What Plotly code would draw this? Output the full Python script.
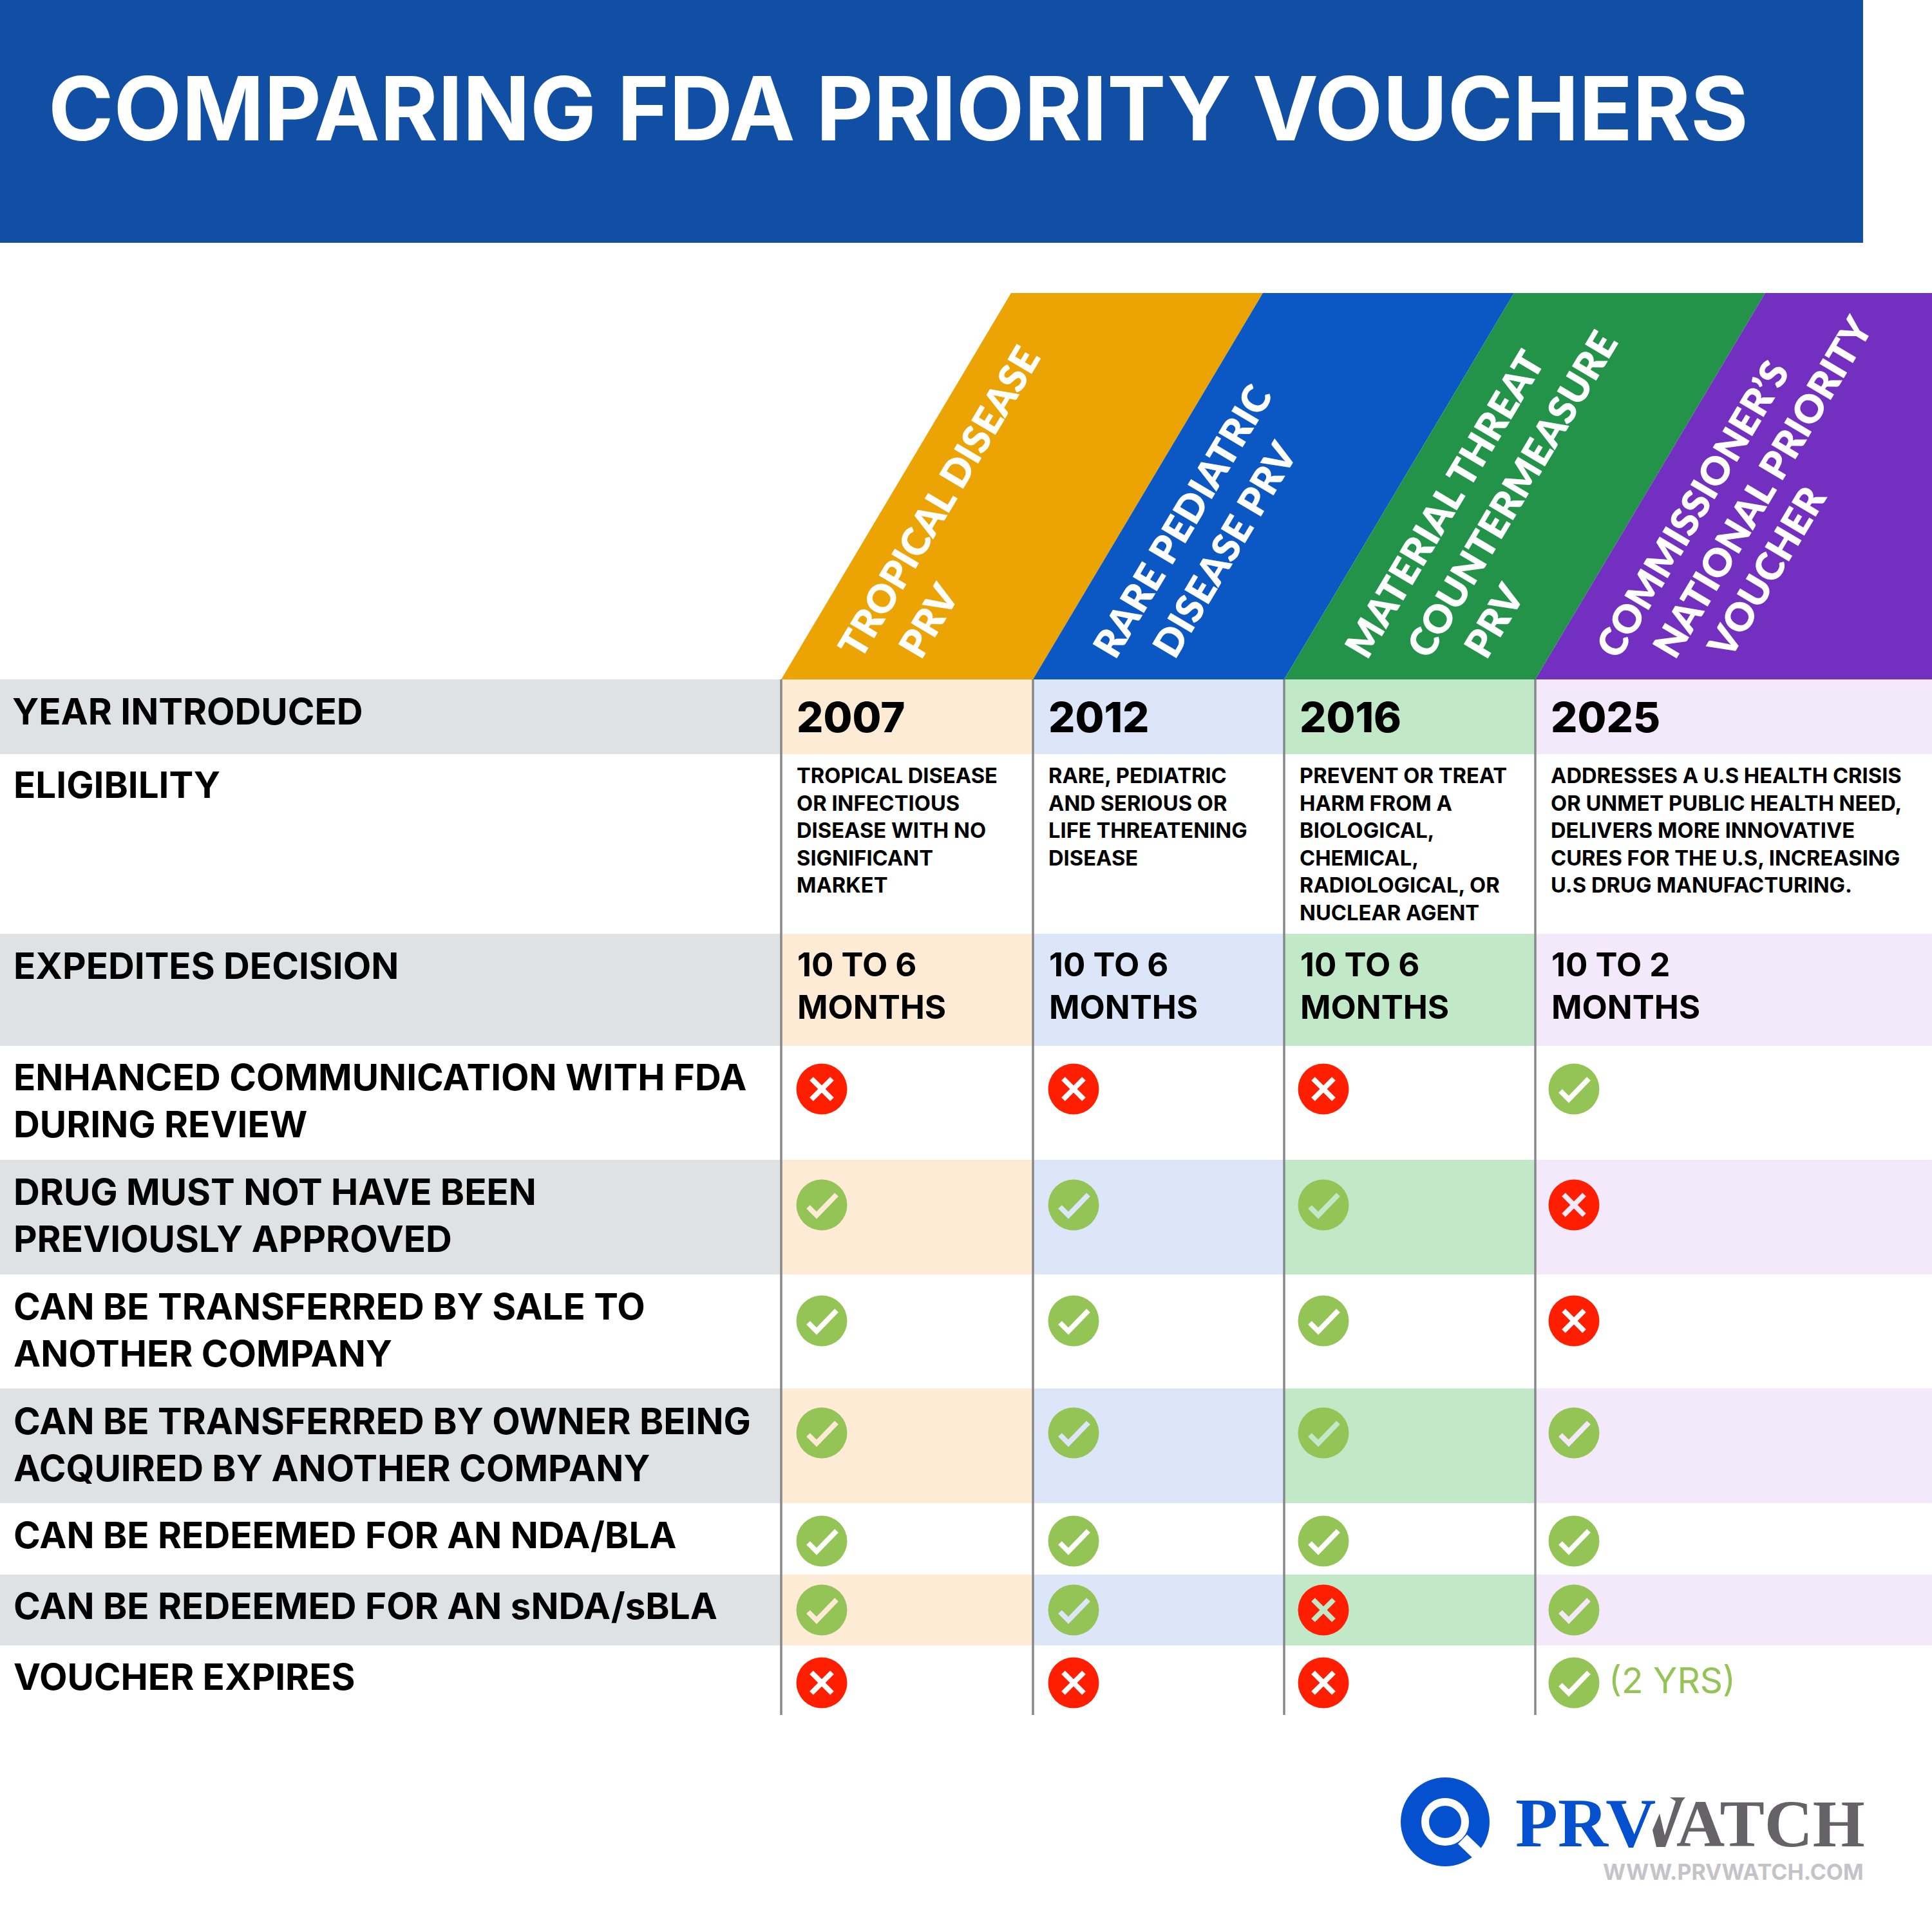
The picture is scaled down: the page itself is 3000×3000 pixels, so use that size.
import plotly.graph_objects as go

TITLE = "COMPARING FDA PRIORITY VOUCHERS"

# one entry per voucher column
COLUMN_LINES = [
    ["TROPICAL DISEASE", "PRV"],
    ["RARE PEDIATRIC", "DISEASE PRV"],
    ["MATERIAL THREAT", "COUNTERMEASURE", "PRV"],
    ["COMMISSIONER’S", "NATIONAL PRIORITY", "VOUCHER"],
]
YEARS = ["2007", "2012", "2016", "2025"]
ELIGIBILITY = [
    "TROPICAL DISEASE<br>OR INFECTIOUS<br>DISEASE WITH NO<br>SIGNIFICANT<br>MARKET",
    "RARE, PEDIATRIC<br>AND SERIOUS OR<br>LIFE THREATENING<br>DISEASE",
    "PREVENT OR TREAT<br>HARM FROM A<br>BIOLOGICAL,<br>CHEMICAL,<br>RADIOLOGICAL, OR<br>NUCLEAR AGENT",
    "ADDRESSES A U.S HEALTH CRISIS<br>OR UNMET PUBLIC HEALTH NEED,<br>DELIVERS MORE INNOVATIVE<br>"
    "CURES FOR THE U.S, INCREASING<br>U.S DRUG MANUFACTURING.",
]
DECISION = ["10 TO 6<br>MONTHS", "10 TO 6<br>MONTHS", "10 TO 6<br>MONTHS", "10 TO 2<br>MONTHS"]

ROW_LABELS = [
    "YEAR INTRODUCED",
    "ELIGIBILITY",
    "EXPEDITES DECISION",
    "ENHANCED COMMUNICATION WITH FDA<br>DURING REVIEW",
    "DRUG MUST NOT HAVE BEEN<br>PREVIOUSLY APPROVED",
    "CAN BE TRANSFERRED BY SALE TO<br>ANOTHER COMPANY",
    "CAN BE TRANSFERRED BY OWNER BEING<br>ACQUIRED BY ANOTHER COMPANY",
    "CAN BE REDEEMED FOR AN NDA/BLA",
    "CAN BE REDEEMED FOR AN sNDA/sBLA",
    "VOUCHER EXPIRES",
]
# yes/no rows, same order as the last seven labels
STATUS = [
    [0, 0, 0, 1],
    [1, 1, 1, 0],
    [1, 1, 1, 0],
    [1, 1, 1, 1],
    [1, 1, 1, 1],
    [1, 1, 0, 1],
    [0, 0, 0, 1],
]
EXPIRY_NOTE = "(2 YRS)"
LOGO_LEFT = "PRV"
LOGO_RIGHT = "ATCH"
LOGO_URL = "WWW.PRVWATCH.COM"

# layout, in page pixels
ROW_EDGES = [1055, 1171, 1450, 1624, 1801, 1979, 2156, 2334, 2445, 2555, 2663]
COL_EDGES = [1213, 1604, 1994, 2384, 3000]
ROW_TEXT_Y = [1104, 1218, 1499, 1709, 1887, 2065, 2243, 2383, 2493, 2603]
ICON_X = [1276, 1667, 2055, 2444]
ICON_Y = [1691, 1871, 2051, 2225, 2393, 2500, 2613]
HEADER_TOP = 455
SLANT = 357
HEADER_START_X = [[1285, 1378], [1680, 1772], [2071, 2167, 2256], [2461, 2549, 2634]]

HEADER_COLORS = ["#eca304", "#0b58c4", "#23934a", "#722fc0"]
TINTS = ["#fdebd6", "#dce6f8", "#c1e9c8", "#f3e9fb"]
GRAY = "#dfe2e5"
LINE_GRAY = "#88878c"
GREEN = "#94c356"
RED = "#ff1f00"
LOGO_BLUE = "#0550ce"
LOGO_GRAY = "#656367"
FONT = "Inter"

fig = go.Figure()
shapes = []
notes = []


def add_text(x, y, text, size, color="#000000", weight=700, family=FONT, **kwargs):
    notes.append(dict(x=x, y=y, text=text, showarrow=False, xanchor=kwargs.pop("xanchor", "left"),
                      yanchor=kwargs.pop("yanchor", "middle"), align=kwargs.pop("align", "left"), borderpad=0,
                      font=dict(family=family, size=size, color=color, weight=weight), **kwargs))


def rect(x0, y0, x1, y1, color):
    shapes.append(dict(type="rect", x0=x0, y0=y0, x1=x1, y1=y1, fillcolor=color, line_width=0, layer="below"))


# title band
rect(0, 0, 2893, 377, "#114fa5")
add_text(74, 168, TITLE, 137.2, color="#ffffff")

# slanted column heads
for i, color in enumerate(HEADER_COLORS):
    x0 = COL_EDGES[i]
    x1 = COL_EDGES[i + 1]
    top0 = x0 + SLANT
    if x1 + SLANT > 3000:
        path = f"M{x0},{ROW_EDGES[0]} L{top0},{HEADER_TOP} L3000,{HEADER_TOP} L3000,{ROW_EDGES[0]} Z"
    else:
        path = f"M{x0},{ROW_EDGES[0]} L{top0},{HEADER_TOP} L{x1 + SLANT},{HEADER_TOP} L{x1},{ROW_EDGES[0]} Z"
    shapes.append(dict(type="path", path=path, fillcolor=color, line_width=0, layer="below"))
    for line, start_x in zip(COLUMN_LINES[i], HEADER_START_X[i]):
        add_text(start_x, 1034, line, 60, color="#ffffff", family="Lato", weight=800, textangle=-59.2,
                 yanchor="bottom")

# zebra rows
for r in range(len(ROW_LABELS)):
    if r % 2 == 0:
        rect(0, ROW_EDGES[r], COL_EDGES[0], ROW_EDGES[r + 1], GRAY)
        for c in range(4):
            rect(COL_EDGES[c], ROW_EDGES[r], COL_EDGES[c + 1], ROW_EDGES[r + 1], TINTS[c])
    add_text(20 if r else 18, ROW_TEXT_Y[r], ROW_LABELS[r], 56.5)

# column rules
for x in COL_EDGES[:4]:
    shapes.append(dict(type="line", x0=x, x1=x, y0=ROW_EDGES[0], y1=ROW_EDGES[-1],
                       line=dict(color=LINE_GRAY, width=3.5), layer="below"))

# text cells
for c in range(4):
    x = COL_EDGES[c] + 23
    add_text(x, 1113, YEARS[c], 65, weight=800)
    add_text(x, 1183, ELIGIBILITY[c], 32.7, yanchor="top")
    add_text(x + 1, 1530, DECISION[c], 51)

# check and cross icons
for r, row in enumerate(STATUS):
    table_row = r + 3
    for c, ok in enumerate(row):
        cx = ICON_X[c]
        cy = ICON_Y[r]
        glyph = TINTS[c] if table_row % 2 == 0 else "#ffffff"
        fig.add_trace(go.Scatter(x=[cx], y=[cy], mode="markers", hoverinfo="skip",
                                 marker=dict(size=79, color=GREEN if ok else RED, line_width=0)))
        if ok:
            xs = [cx - 21, cx - 8, cx + 23]
            ys = [cy + 3, cy + 16, cy - 16]
        else:
            xs = [cx - 16, cx + 16, None, cx - 16, cx + 16]
            ys = [cy - 16, cy + 16, None, cy + 16, cy - 16]
        fig.add_trace(go.Scatter(x=xs, y=ys, mode="lines", hoverinfo="skip",
                                 line=dict(color=glyph, width=8)))
add_text(2497, 2609, EXPIRY_NOTE, 55, color=GREEN, weight=400)

# logo mark: disc, lens ring and handle
fig.add_trace(go.Scatter(x=[2244], y=[2829], mode="markers", hoverinfo="skip",
                         marker=dict(size=138, color=LOGO_BLUE, line_width=0)))
fig.add_trace(go.Scatter(x=[2244], y=[2829], mode="markers", hoverinfo="skip",
                         marker=dict(size=62, color=LOGO_BLUE, line=dict(color="#ffffff", width=12))))
fig.add_trace(go.Scatter(x=[2271, 2300], y=[2856, 2884], mode="lines", hoverinfo="skip",
                         line=dict(color="#ffffff", width=20)))
# logo wordmark, the W is only its grey right half
fig.add_trace(go.Scatter(x=[2577, 2566, 2572, 2586, 2612, 2617, 2593, 2602, 2585, 2577],
                         y=[2816, 2842, 2868, 2868, 2797, 2791, 2791, 2797, 2850, 2816],
                         mode="lines", fill="toself", fillcolor=LOGO_GRAY, hoverinfo="skip",
                         line=dict(color=LOGO_GRAY, width=0)))
add_text(2352, 2891, LOGO_LEFT, 108, color=LOGO_BLUE, family="Liberation Serif", yanchor="bottom")
add_text(2897, 2890, LOGO_RIGHT, 104, color=LOGO_GRAY, family="Liberation Serif", xanchor="right",
         yanchor="bottom")
add_text(2488, 2906, LOGO_URL, 34, color="#c4c3c7")

fig.update_layout(
    width=3000, height=3000, margin=dict(l=0, r=0, t=0, b=0, pad=0), showlegend=False,
    paper_bgcolor="#ffffff", plot_bgcolor="#ffffff", shapes=shapes, annotations=notes,
    xaxis=dict(range=[0, 3000], visible=False, fixedrange=True),
    yaxis=dict(range=[3000, 0], visible=False, fixedrange=True),
)
fig.write_html("out.html", config=dict(displayModeBar=False), post_script="document.body.style.margin='0';")
